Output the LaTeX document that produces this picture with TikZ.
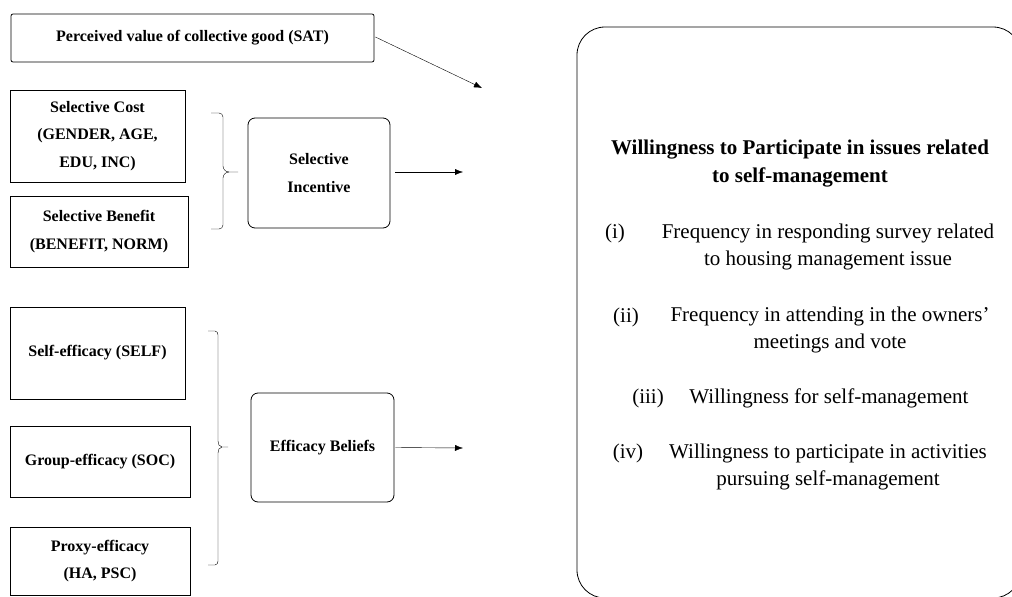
\documentclass[tikz,border=0pt]{standalone}
\usepackage{fontspec}
\setmainfont{Liberation Serif}
\usetikzlibrary{arrows.meta}
\begin{document}
\begin{tikzpicture}[x=1pt,y=-1pt,>={Latex[length=8pt,width=6pt]},
  box/.style={draw, thick, align=center, inner sep=0pt, font=\bfseries\fontsize{16}{27.5}\selectfont},
  rbox/.style={box, rounded corners=7pt},
  item/.style={align=center, font=\fontsize{21}{27}\selectfont}]
\useasboundingbox (0,0) rectangle (1012,597);
\node[box, rounded corners=2pt, minimum width=363pt, minimum height=48pt] (sat) at (192.5,38) {Perceived value of collective good (SAT)};
\node[box, minimum width=175pt, minimum height=92pt] (cost) at (97.5,136) {Selective Cost\\(GENDER, AGE,\\EDU, INC)};
\node[box, minimum width=178pt, minimum height=71pt] (benefit) at (99,231.5) {Selective Benefit\\(BENEFIT, NORM)};
\node[rbox, minimum width=142pt, minimum height=110pt] (incent) at (319,173) {Selective\\Incentive};
\node[box, minimum width=175pt, minimum height=92pt] (self) at (97.5,353) {Self-efficacy (SELF)};
\node[box, minimum width=180pt, minimum height=71pt] (group) at (100,461.5) {Group-efficacy (SOC)};
\node[box, minimum width=180pt, minimum height=68pt] (proxy) at (100,561) {Proxy-efficacy\\(HA, PSC)};
\node[rbox, minimum width=143pt, minimum height=109pt] (belief) at (322.5,447.5) {Efficacy Beliefs};
\node[draw, thick, rounded corners=28pt, minimum width=444pt, minimum height=571pt] (will) at (799,312.5) {};

% texts in the outcome box
\node[align=center, font=\bfseries\fontsize{21}{28}\selectfont] (title) at (800,164) {Willingness to Participate in issues related\\to self-management};
\node[item] (n1) at (615,233) {(i)};
\node[item] (t1) at (828,247) {Frequency in responding survey related\\to housing management issue};
\node[item] (n2) at (626,317) {(ii)};
\node[item] (t2) at (830,330) {Frequency in attending in the owners'\\meetings and vote};
\node[item] (n3) at (648,398) {(iii)};
\node[item] (t3) at (829,398) {Willingness for self-management};
\node[item] (n4) at (628,453) {(iv)};
\node[item] (t4) at (828,466.5) {Willingness to participate in activities\\pursuing self-management};

% arrows
\coordinate (satend) at (482,88);
\coordinate (incend) at (463,172);
\coordinate (belend) at (463,448);
\draw[->] (sat.east) ++(1,-1) -- (satend);
\draw[->] (incent.east) ++(5,-1) -- (incend);
\draw[->] (belief.east) ++(1,0) -- (belend);

% brackets
\draw (211,113) -- (219,113) to[out=0,in=90] (223,117) -- (223,166) to[out=-90,in=180] (229,172) -- (238,172);
\draw (211,229) -- (219,229) to[out=0,in=-90] (223,225) -- (223,178) to[out=90,in=180] (229,172);
\draw (208,331) -- (215,331) to[out=0,in=90] (218,335) -- (218,441) to[out=-90,in=180] (222,447) -- (228,447);
\draw (208,565) -- (215,565) to[out=0,in=-90] (218,561) -- (218,453) to[out=90,in=180] (222,447);
\end{tikzpicture}
\end{document}
